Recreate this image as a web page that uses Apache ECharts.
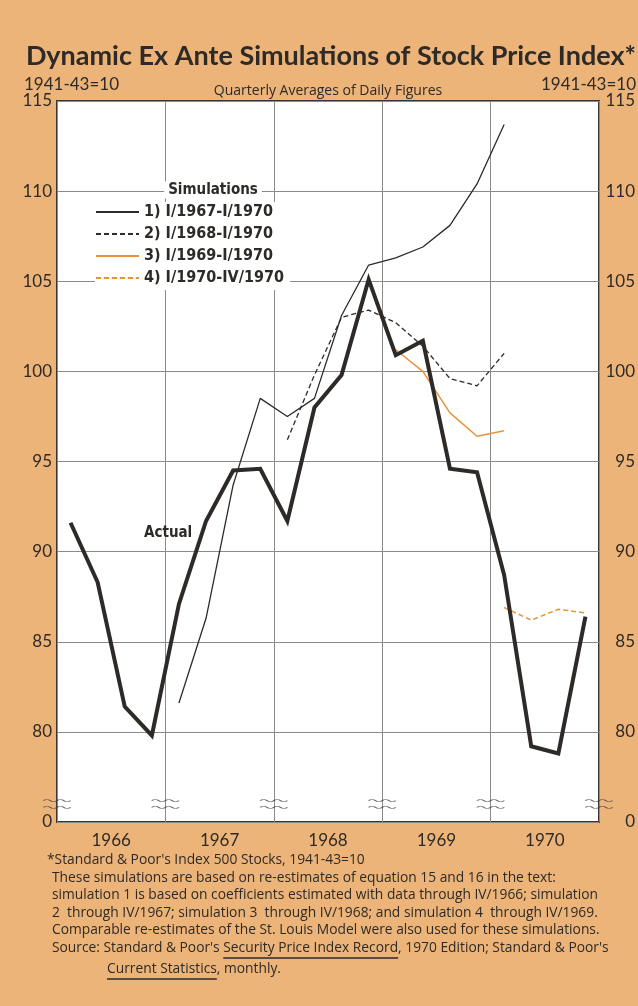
<!DOCTYPE html>
<html lang="en">
<head>
    <meta charset="utf-8">
    <title>Stock Price Index Simulations</title>
    <script src="https://cdn.jsdelivr.net/npm/echarts@6/dist/echarts.min.js"></script>
    <style>
        html, body { margin: 0; padding: 0; background: #ecb479; }
        #chart { width: 638px; height: 1006px; }
    </style>
</head>
<body>
<div id="chart"></div>
<script type="text/javascript">
    // quarters I/1966 .. IV/1970
    var quarters = ['I/1966', 'II/1966', 'III/1966', 'IV/1966',
        'I/1967', 'II/1967', 'III/1967', 'IV/1967',
        'I/1968', 'II/1968', 'III/1968', 'IV/1968',
        'I/1969', 'II/1969', 'III/1969', 'IV/1969',
        'I/1970', 'II/1970', 'III/1970', 'IV/1970'];
    var years = ['1966', '1967', '1968', '1969', '1970'];
    var yTicks = ['0', '80', '85', '90', '95', '100', '105', '110', '115'];

    var actual = [91.6, 88.3, 81.4, 79.8, 87.1, 91.7, 94.5, 94.6, 91.7, 98.0,
        99.8, 105.1, 100.9, 101.7, 94.6, 94.4, 88.7, 79.2, 78.8, 86.4];
    var sim1 = [null, null, null, null, 81.6, 86.3, 93.7, 98.5, 97.5, 98.5,
        103.1, 105.9, 106.3, 106.9, 108.1, 110.4, 113.7, null, null, null];
    var sim2 = [null, null, null, null, null, null, null, null, 96.2, 99.8,
        103.0, 103.4, 102.7, 101.4, 99.6, 99.2, 101.0, null, null, null];
    var sim3 = [null, null, null, null, null, null, null, null, null, null,
        null, null, 101.2, 100.0, 97.7, 96.4, 96.7, null, null, null];
    var sim4 = [null, null, null, null, null, null, null, null, null, null,
        null, null, null, null, null, null, 86.9, 86.2, 86.8, 86.6];

    var simNames = ['1) I/1967-I/1970', '2) I/1968-I/1970', '3) I/1969-I/1970', '4) I/1970-IV/1970'];

    var dark = '#2e2a27';
    var orange = '#e8933a';
    var bg = '#ecb479';
    var numFont = 'Lato, "DejaVu Sans", sans-serif';
    var narrowFont = '"Liberation Sans Narrow", "DejaVu Sans Condensed", sans-serif';

    // quarter midpoints on a 0..20 axis
    function toPoints(arr) {
        var out = [];
        arr.forEach(function (v, i) {
            if (v != null) out.push([i + 0.5, v]);
        });
        return out;
    }

    // axis break marks at every year boundary
    var breakMarks = [];
    for (var b = 0; b <= years.length; b++) breakMarks.push([b * 4, 76]);

    var wave = 'path://M0,2 Q3,0 6,2 T12,2 T18,2 T24,2 M0,8 Q3,6 6,8 T12,8 T18,8 T24,8';

    // footnote lines
    var notes = [
        'These simulations are based on re-estimates of equation 15 and 16 in the text:',
        'simulation 1 is based on coefficients estimated with data through IV/1966; simulation',
        '2  through IV/1967; simulation 3  through IV/1968; and simulation 4  through IV/1969.',
        'Comparable re-estimates of the St. Louis Model were also used for these simulations.'
    ];
    var noteFont = '13.8px "Open Sans", sans-serif';

    // measure text to place underlines
    var ctx = document.createElement('canvas').getContext('2d');
    ctx.font = noteFont;
    var srcPre = 'Source: Standard & Poor\'s ';
    var srcU = 'Security Price Index Record';
    var u1x = 52 + ctx.measureText(srcPre).width;
    var u1w = ctx.measureText(srcU).width;
    var u2w = ctx.measureText('Current Statistics').width;

    var graphics = [
        {type: 'text', style: {text: 'Dynamic Ex Ante Simulations of Stock Price Index*', x: 636, y: 56,
            textAlign: 'right', textVerticalAlign: 'middle', font: 'bold 27px Lato, sans-serif', fill: dark}},
        {type: 'text', style: {text: '1941-43=10', x: 24, y: 85, textAlign: 'left', textVerticalAlign: 'middle',
            font: '17px ' + numFont, fill: dark}},
        {type: 'text', style: {text: '1941-43=10', x: 636, y: 85, textAlign: 'right', textVerticalAlign: 'middle',
            font: '17px ' + numFont, fill: dark}},
        {type: 'text', style: {text: 'Quarterly Averages of Daily Figures', x: 328, y: 91, textAlign: 'center',
            textVerticalAlign: 'middle', font: '14px "Open Sans", sans-serif', fill: dark}},
        {type: 'text', style: {text: 'Simulations', x: 213, y: 190, textAlign: 'center', textVerticalAlign: 'middle',
            font: 'bold 15px ' + narrowFont, fill: dark, backgroundColor: '#fff', padding: [1, 4]}, z: 100},
        {type: 'text', style: {text: '*Standard & Poor\'s Index 500 Stocks, 1941-43=10', x: 47, y: 860,
            textVerticalAlign: 'middle', font: noteFont, fill: dark}},
        {type: 'text', style: {text: srcPre + srcU + ', 1970 Edition; Standard & Poor\'s', x: 52, y: 948,
            textVerticalAlign: 'middle', font: noteFont, fill: dark}},
        {type: 'text', style: {text: 'Current Statistics, monthly.', x: 107, y: 969,
            textVerticalAlign: 'middle', font: noteFont, fill: dark}},
        {type: 'line', shape: {x1: u1x, y1: 958, x2: u1x + u1w, y2: 958}, style: {stroke: dark, lineWidth: 1.3}},
        {type: 'line', shape: {x1: 107, y1: 979, x2: 107 + u2w, y2: 979}, style: {stroke: dark, lineWidth: 1.3}}
    ];
    notes.forEach(function (t, i) {
        graphics.push({type: 'text', style: {text: t, x: 52, y: 878 + i * 17.5, textVerticalAlign: 'middle',
            font: noteFont, fill: dark}});
    });

    var simStyles = [
        {color: dark, type: 'solid', width: 1.3},
        {color: dark, type: [5, 3], width: 1.3},
        {color: orange, type: 'solid', width: 1.5},
        {color: orange, type: [5, 3], width: 1.5}
    ];
    var simData = [sim1, sim2, sim3, sim4];

    var series = simData.map(function (arr, i) {
        return {
            name: simNames[i],
            type: 'line',
            data: toPoints(arr),
            symbol: 'none',
            color: simStyles[i].color,
            lineStyle: {color: simStyles[i].color, type: simStyles[i].type, width: simStyles[i].width},
            z: 3,
            animation: false
        };
    });
    series.push({
        name: 'Actual',
        type: 'line',
        data: toPoints(actual),
        symbol: 'none',
        color: dark,
        lineStyle: {color: dark, width: 4, join: 'miter'},
        z: 4,
        animation: false,
        markPoint: {
            symbol: 'circle',
            symbolSize: 1,
            itemStyle: {color: 'transparent'},
            label: {show: true, position: 'inside', formatter: 'Actual', color: dark,
                fontFamily: narrowFont, fontWeight: 'bold', fontSize: 15},
            data: [{coord: [4.1, 91.0]}]
        }
    });
    series.push({
        name: 'breaks',
        type: 'scatter',
        data: breakMarks,
        symbol: wave,
        symbolSize: [27, 9],
        itemStyle: {color: 'transparent', borderColor: '#3f3f3f', borderWidth: 1.2},
        clip: false,
        silent: true,
        z: 5,
        animation: false
    });

    var chart = echarts.init(document.getElementById('chart'));
    chart.setOption({
        backgroundColor: bg,
        animation: false,
        grid: {left: 57, right: 38, top: 101, bottom: 184, show: true, backgroundColor: '#fff',
            borderColor: '#3a3633', borderWidth: 2},
        legend: {
            data: simNames,
            orient: 'vertical',
            left: 95,
            top: 202,
            itemWidth: 43,
            itemHeight: 12,
            itemGap: 6,
            padding: [2, 6, 4, 0],
            backgroundColor: '#fff',
            selectedMode: false,
            itemStyle: {opacity: 0},
            textStyle: {fontFamily: narrowFont, fontWeight: 'bold', fontSize: 16, color: dark}
        },
        xAxis: [{
            type: 'value', min: 0, max: 20, interval: 4,
            axisLine: {show: false}, axisTick: {show: false}, axisLabel: {show: false},
            splitLine: {show: true, lineStyle: {color: '#8a8a8a', width: 1}}
        }, {
            type: 'value', min: 0, max: 20, interval: 2, position: 'bottom',
            axisLine: {show: false}, axisTick: {show: false}, splitLine: {show: false},
            axisLabel: {
                margin: 10, color: dark, fontFamily: numFont, fontSize: 17,
                formatter: function (v) {
                    return v % 4 === 2 ? years[(v - 2) / 4] : '';
                }
            }
        }],
        yAxis: [{
            type: 'value', min: 75, max: 115, interval: 5, position: 'left',
            axisLine: {show: false}, axisTick: {show: false},
            splitLine: {show: true, lineStyle: {color: '#8a8a8a', width: 1}},
            axisLabel: {margin: 5, color: dark, fontFamily: numFont, fontSize: 17,
                formatter: function (v) { return yTicks[(v - 75) / 5]; }}
        }, {
            type: 'value', min: 75, max: 115, interval: 5, position: 'right',
            axisLine: {show: false}, axisTick: {show: false}, splitLine: {show: false},
            axisLabel: {margin: 36, align: 'right', color: dark, fontFamily: numFont, fontSize: 17,
                formatter: function (v) { return yTicks[(v - 75) / 5]; }}
        }],
        graphic: graphics,
        series: series
    });
</script>
</body>
</html>
